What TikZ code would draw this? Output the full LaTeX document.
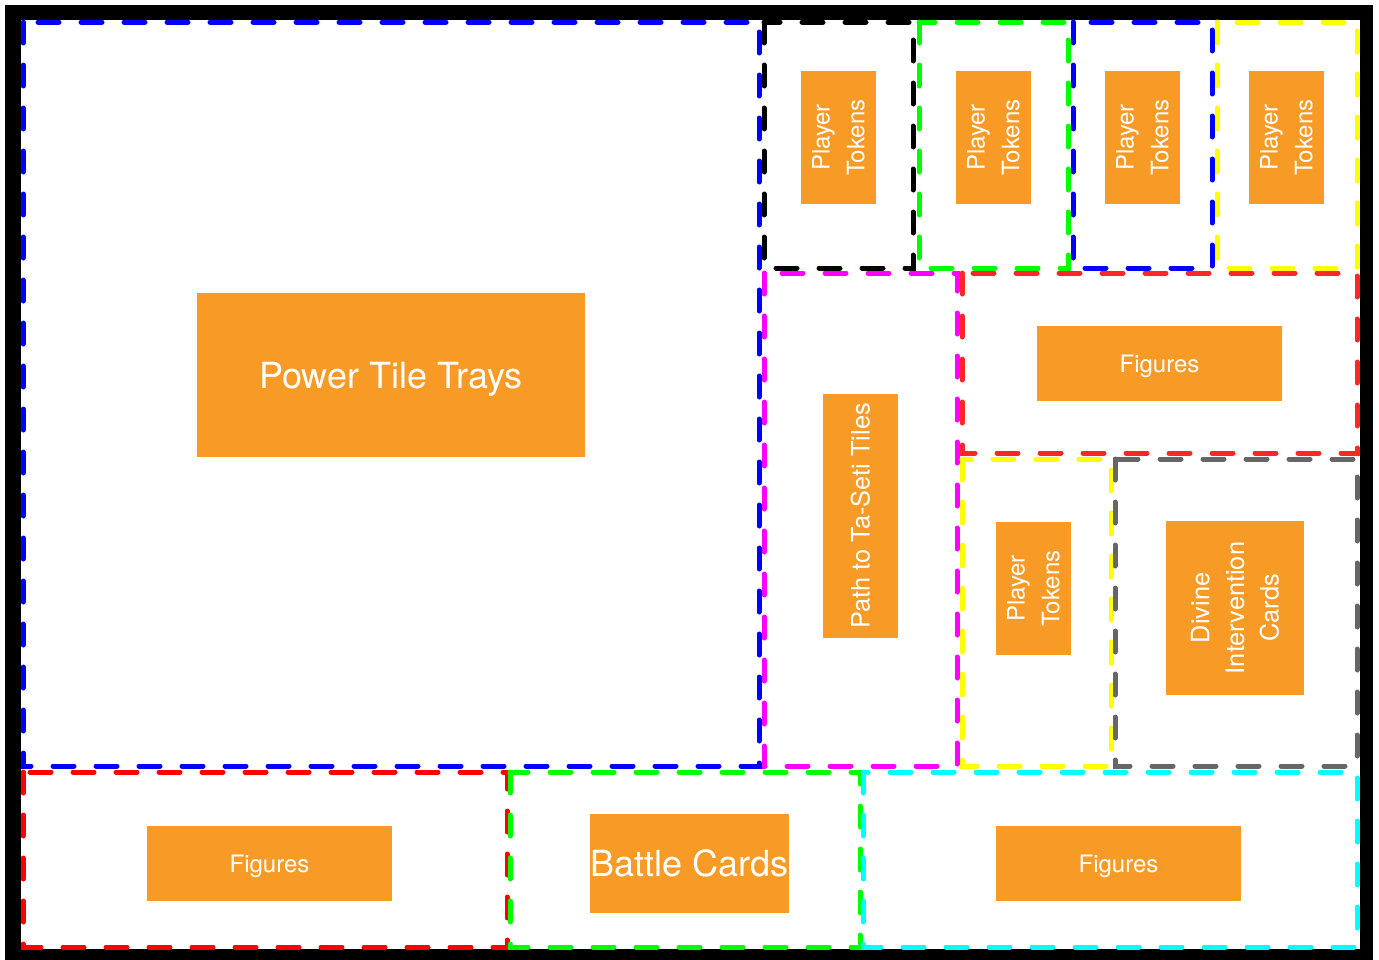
\documentclass[tikz,border=0pt]{standalone}
\usepackage{fontspec}
\setmainfont{TeX Gyre Heros}
\usepackage{xcolor}
\definecolor{trayorange}{HTML}{F79B26}
\definecolor{lineblue}{HTML}{0000FF}
\definecolor{linegreen}{HTML}{00FF00}
\definecolor{lineyellow}{HTML}{FFFF00}
\definecolor{linered}{HTML}{FF2626}
\definecolor{linepurered}{HTML}{FF0000}
\definecolor{linemagenta}{HTML}{FF00FF}
\definecolor{linegray}{HTML}{666666}
\definecolor{linecyan}{HTML}{00FFFF}
\tikzset{
  compartment/.style={draw, line width=3.75pt, line cap=round, dash pattern=on 15.75pt off 16.5pt},
  tray/.style={fill=trayorange, text=white, align=center, inner sep=0pt, font=\fontsize{18}{26}\selectfont},
  bigtray/.style={tray, text depth=0pt, font=\fontsize{27}{30}\selectfont},
  tokentray/.style={tray, rotate=90, minimum width=99.75pt, minimum height=56.25pt},
  figtray/.style={tray, text depth=0pt, minimum width=183.75pt, minimum height=56.25pt}
}

\begin{document}
\begin{tikzpicture}[x=0.75pt, y=-0.75pt]
  \useasboundingbox (0,0) rectangle (1379,960);
  \fill[black] (5,5) rectangle (1373,966);
  \fill[white] (21,20) rectangle (1360,949);

  % compartments
  \draw[compartment, draw=lineblue] (23,22) rectangle (759,766);
  \draw[compartment, draw=black] (764,22) rectangle (913,268);
  \draw[compartment, draw=linegreen] (919,22) rectangle (1068,268);
  \draw[compartment, draw=lineblue] (1073,22) rectangle (1212,268);
  \draw[compartment, draw=lineyellow] (1217,22) rectangle (1357,268);
  \draw[compartment, draw=linemagenta] (764,273) rectangle (957,766);
  \draw[compartment, draw=linered] (962,273) rectangle (1357,453);
  \draw[compartment, draw=lineyellow] (962,459) rectangle (1111,766);
  \draw[compartment, draw=linegray] (1115,459) rectangle (1357,766);
  \draw[compartment, draw=linepurered] (23,772) rectangle (507,947);
  \draw[compartment, draw=linegreen] (510,772) rectangle (860,947);
  \draw[compartment, draw=linecyan] (863,772) rectangle (1357,947);

  % trays
  \node[bigtray, minimum width=291pt, minimum height=123pt] (power) at (391,375) {Power Tile Trays};
  \node[tokentray] (tokensa) at (838.5,137.5) {Player\\Tokens};
  \node[tokentray] (tokensb) at (993.5,137.5) {Player\\Tokens};
  \node[tokentray] (tokensc) at (1142.5,137.5) {Player\\Tokens};
  \node[tokentray] (tokensd) at (1286.5,137.5) {Player\\Tokens};
  \node[figtray] (figurestop) at (1159.5,363.5) {Figures};
  \node[tray, rotate=90, minimum width=183pt, minimum height=56.25pt, font=\fontsize{19}{26}\selectfont] (path) at (860.5,516) {Path to Ta-Seti Tiles};
  \node[tokentray] (tokense) at (1033.5,588.5) {Player\\Tokens};
  \node[tray, rotate=90, minimum width=130.5pt, minimum height=103.5pt, font=\fontsize{19}{26}\selectfont] (divine) at (1235,608) {Divine\\Intervention\\Cards};
  \node[figtray] (figuresleft) at (269.5,863.5) {Figures};
  \node[bigtray, minimum width=149.25pt, minimum height=74.25pt] (battle) at (689.5,863.5) {Battle Cards};
  \node[figtray] (figuresright) at (1118.5,863.5) {Figures};
\end{tikzpicture}
\end{document}
